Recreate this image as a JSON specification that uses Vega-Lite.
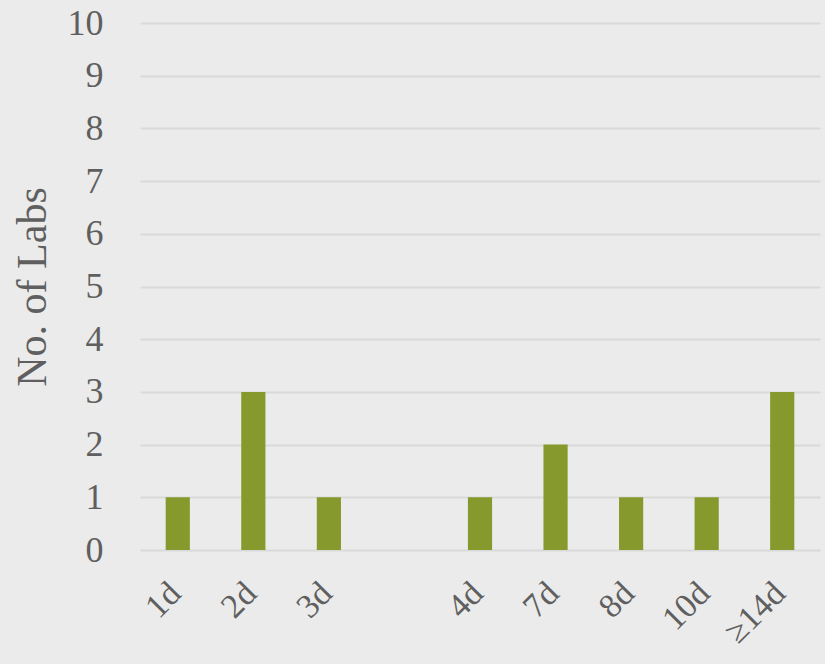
{
  "$schema": "https://vega.github.io/schema/vega-lite/v6.json",
  "width": 680,
  "height": 527,
  "autosize": {"type": "none"},
  "padding": {"left": 140, "top": 23, "right": 5, "bottom": 114},
  "background": "#ebebeb",
  "data": {"values": [
    {"d": "1d", "n": 1},
    {"d": "2d", "n": 3},
    {"d": "3d", "n": 1},
    {"d": "4d", "n": 1},
    {"d": "7d", "n": 2},
    {"d": "8d", "n": 1},
    {"d": "10d", "n": 1},
    {"d": "≥14d", "n": 3}
  ]},
  "mark": {"type": "bar", "color": "#86992c"},
  "encoding": {
    "x": {
      "field": "d", "type": "nominal", "sort": null,
      "scale": {"domain": ["1d", "2d", "3d", " ", "4d", "7d", "8d", "10d", "≥14d"], "paddingInner": 0.68, "paddingOuter": 0.34},
      "axis": {"title": null, "labelAngle": -45, "labelFontSize": 34, "labelFont": "Liberation Serif", "labelColor": "#5f5f5f", "ticks": false, "domain": false, "labelPadding": 26, "labelOffset": -14, "grid": false}
    },
    "y": {
      "field": "n", "type": "quantitative",
      "scale": {"domain": [0, 10], "nice": false},
      "axis": {"title": "No. of Labs", "titleFont": "Liberation Serif", "titleFontSize": 42, "titleFontWeight": "normal", "titleColor": "#5f5f5f", "titlePadding": 13, "values": [0,1,2,3,4,5,6,7,8,9,10], "labelFontSize": 36, "labelFont": "Liberation Serif", "labelColor": "#5f5f5f", "ticks": false, "domain": false, "labelPadding": 37, "gridColor": "#d9d9d9", "gridWidth": 2}
    }
  },
  "config": {"view": {"stroke": null}}
}
